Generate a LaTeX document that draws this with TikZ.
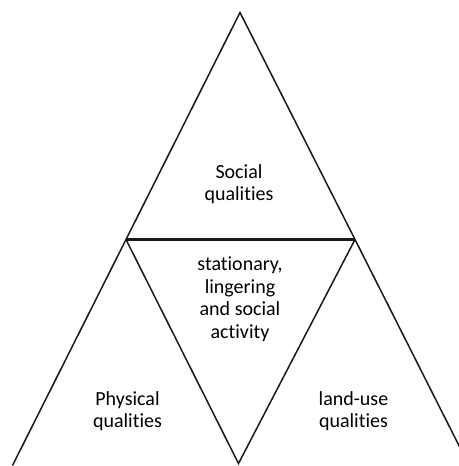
\documentclass[tikz,border=0pt]{standalone}
\usepackage{fontspec}
\setmainfont{Carlito}[Ligatures=NoCommon]
\usepackage{tikz}
\usetikzlibrary{calc,positioning}

\tikzstyle{edge}  = [line width=1.5bp,black!90]
\tikzstyle{label} = [align=center,inner sep=0pt,
                     font=\fontsize{20bp}{22.5bp}\selectfont]

\begin{document}
\begin{tikzpicture}[x=1bp,y=1bp]
	\useasboundingbox (0,0) rectangle (459,466);
	\clip (0,0) rectangle (459,466);

	% corners of the big triangle and of the middle one
	\coordinate (top) at (240,453.5);
	\coordinate (left) at (126,226.5);
	\coordinate (right) at (355,226.5);
	\coordinate (bottomleft) at (12.5,0.5);
	\coordinate (bottommid) at (238.5,2.5);
	\coordinate (bottomright) at (469,0.5);

	\draw[edge] (bottomleft) -- (left) -- (top) -- (right) -- (bottomright);
	\draw[edge,line width=2.2bp] (left) -- (right);
	\draw[edge] (left) -- (bottommid) -- (right);

	\node[label] (social) at (239,282) {Social\\qualities};
	\node[label] (activity) at (240,167) {stationary,\\lingering\\and social\\activity};
	\node[label] (physical) at (127.5,55) {Physical\\qualities};
	\node[label] (landuse) at (353.5,55) {land-use\\qualities};
\end{tikzpicture}
\end{document}
